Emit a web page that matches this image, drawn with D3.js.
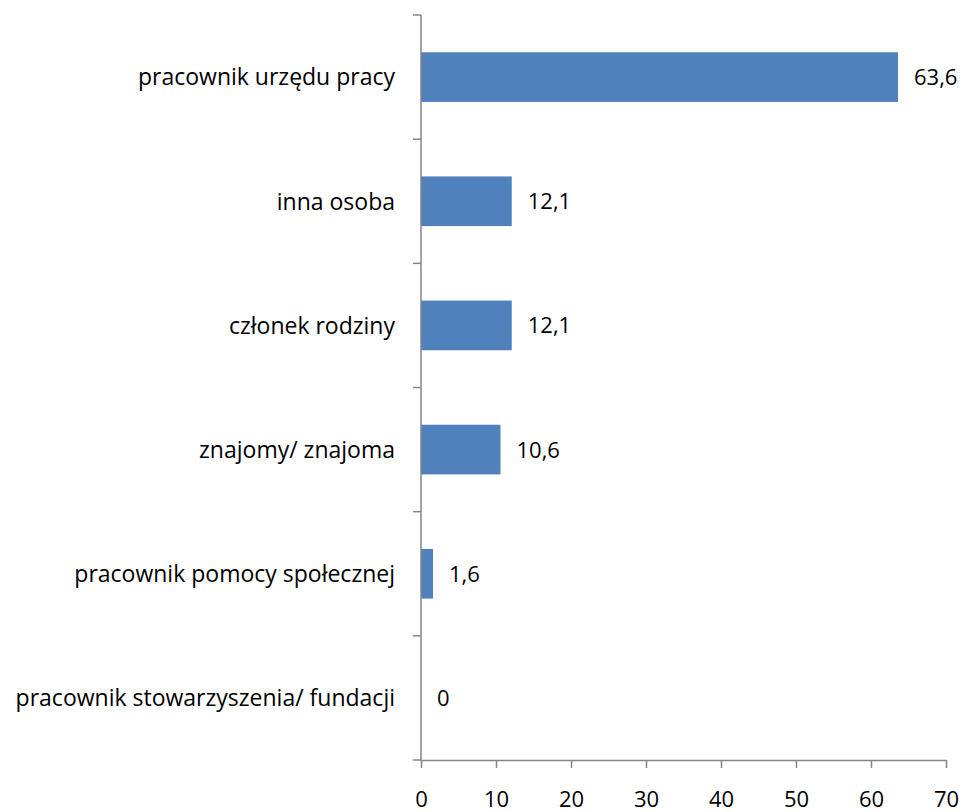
<!DOCTYPE html>
<html><head><meta charset="utf-8">
<script src="https://cdn.jsdelivr.net/npm/d3@7"></script>
<style>body{margin:0;background:#fff}svg{display:block}</style>
</head><body>
<script>
const categories = ["pracownik urzędu pracy","inna osoba","członek rodziny","znajomy/ znajoma","pracownik pomocy społecznej","pracownik stowarzyszenia/ fundacji"];
const values = [63.6, 12.1, 12.1, 10.6, 1.6, 0];
const xTicks = [0,10,20,30,40,50,60,70];

(function(){
const W = 963, H = 812;
const mLeft = 421, mRight = 946, mTop = 15, mBottom = 760;
const font = "'Open Sans', sans-serif";
const axisColor = "#868686";

const svg = d3.select("body").append("svg").attr("width", W).attr("height", H);

const x = d3.scaleLinear().domain([0,70]).range([mLeft, mRight]);
const y = d3.scaleBand().domain(categories).range([mTop, mBottom]).paddingInner(0.6).paddingOuter(0.3);

// bars
svg.selectAll("rect.bar").data(values).enter().append("rect")
  .attr("x", x(0)).attr("y", (d,i)=>y(categories[i]))
  .attr("width", d=>x(d)-x(0)).attr("height", y.bandwidth())
  .attr("fill", "#4F81BD");

// value labels
svg.selectAll("text.val").data(values).enter().append("text")
  .attr("x", d=>x(d)+16).attr("y", (d,i)=>y(categories[i])+y.bandwidth()/2)
  .attr("dy","0.36em")
  .attr("font-family", font).attr("font-size", 22).attr("fill","#000")
  .text(d=> d===0 ? "0" : d.toFixed(1).replace(".", ","));

// y axis line and boundary ticks
const step = y.step();
const yAx = svg.append("g");
yAx.append("line").attr("x1", mLeft).attr("x2", mLeft).attr("y1", mTop).attr("y2", mBottom)
  .attr("stroke", axisColor).attr("stroke-width", 1.5);
d3.range(categories.length+1).forEach(i=>{
  const yy = y.range()[0] + i*step;
  yAx.append("line").attr("x1", mLeft-8).attr("x2", mLeft).attr("y1", yy).attr("y2", yy)
    .attr("stroke", axisColor).attr("stroke-width", 1.5);
});
// category labels
svg.selectAll("text.cat").data(categories).enter().append("text")
  .attr("x", 395).attr("y", d=>y(d)+y.bandwidth()/2)
  .attr("dy","0.36em").attr("text-anchor","end")
  .attr("font-family", font).attr("font-size", 23).attr("fill","#000")
  .text(d=>d);

// x axis
const xAxis = svg.append("g").attr("transform", `translate(0,${mBottom})`)
  .call(d3.axisBottom(x).tickValues(xTicks).tickSize(8).tickPadding(24).tickSizeOuter(0));
xAxis.select(".domain").attr("stroke", axisColor).attr("stroke-width", 1.5);
xAxis.selectAll(".tick line").attr("stroke", axisColor).attr("stroke-width", 1.5);
xAxis.selectAll(".tick text").attr("font-family", font).attr("font-size", 22).attr("fill","#000").attr("dy","0.7em");
})();
</script>
</body></html>
